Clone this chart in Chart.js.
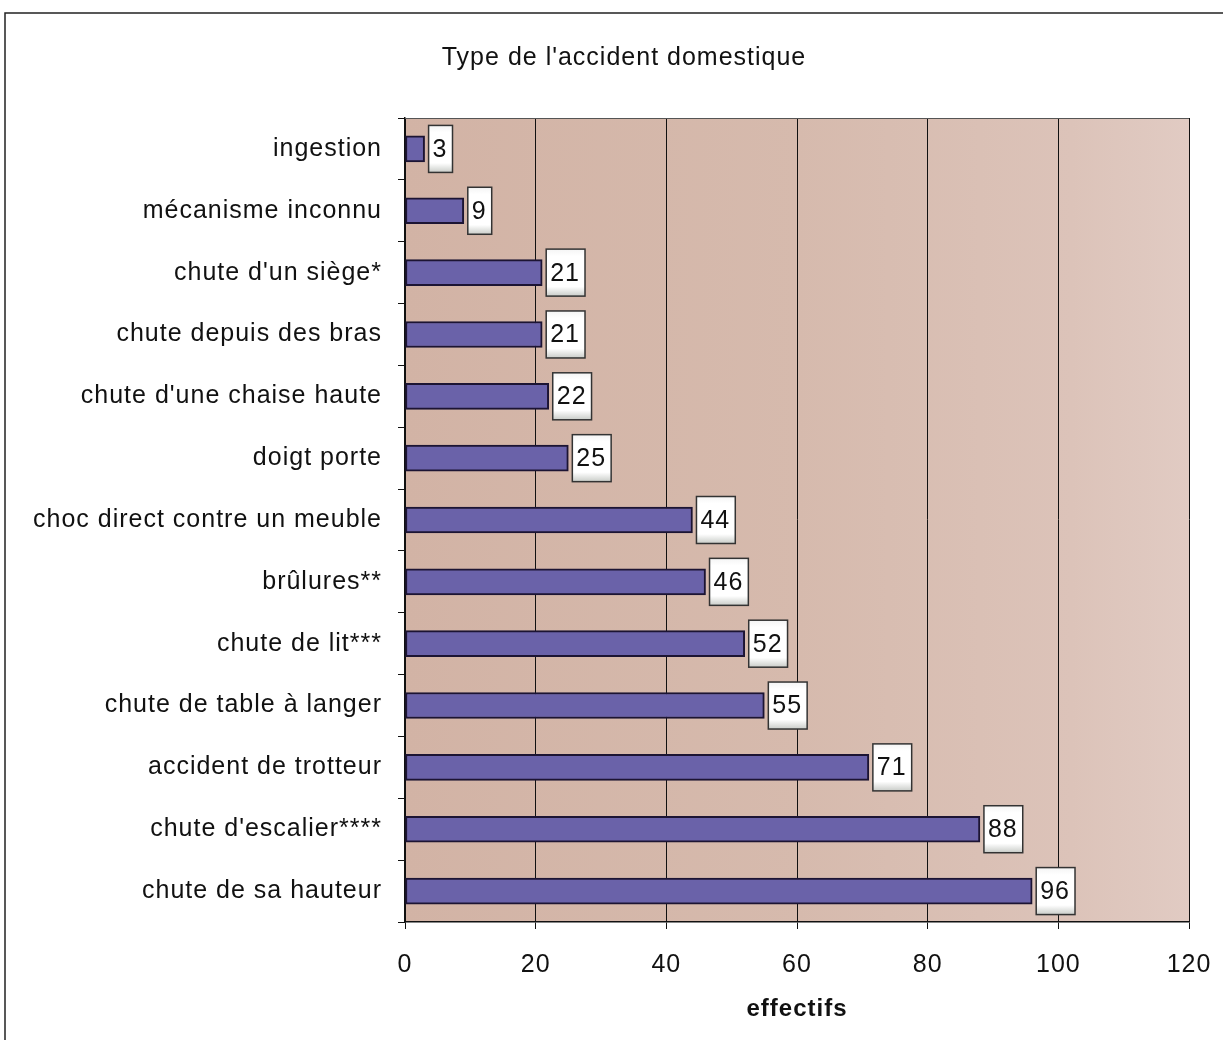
<!DOCTYPE html>
<html>
<head>
<meta charset="utf-8">
<script src="https://cdn.jsdelivr.net/npm/chart.js@4/dist/chart.umd.min.js"></script>
<style>
  html, body { margin: 0; padding: 0; background: #fff; }
  #wrap { width: 1223px; height: 1046px; position: relative; }
</style>
</head>
<body>
<div id="wrap"><canvas id="myChart"></canvas></div>
<script>
var categories = [
  "ingestion", "mécanisme inconnu", "chute d'un siège*", "chute depuis des bras",
  "chute d'une chaise haute", "doigt porte", "choc direct contre un meuble",
  "brûlures**", "chute de lit***", "chute de table à langer",
  "accident de trotteur", "chute d'escalier****", "chute de sa hauteur"
];
var effectifs = [3, 9, 21, 21, 22, 25, 44, 46, 52, 55, 71, 88, 96];
var xTicks = [0, 20, 40, 60, 80, 100, 120];
var chartTitle = "Type de l'accident domestique";

var FONT = "Arial, 'Liberation Sans', sans-serif";

// le texte du scan est un peu plus large qu'Arial
var spacingPlugin = {
  id: 'spacing',
  beforeUpdate: function(chart) { chart.ctx.letterSpacing = '1px'; },
  beforeLayout: function(chart) { chart.ctx.letterSpacing = '1px'; },
  beforeDraw: function(chart) { chart.ctx.letterSpacing = '1px'; }
};

// fond du graphique, cadre de la page et titre
var backgroundPlugin = {
  id: 'plotBg',
  beforeDraw: function(chart) {
    var c = chart.ctx, a = chart.chartArea;
    c.save();
    c.fillStyle = '#fff';
    c.fillRect(0, 0, chart.width, chart.height);
    var g = c.createLinearGradient(a.left, 0, a.right, 0);
    g.addColorStop(0, '#d2b3a5');
    g.addColorStop(0.5, '#d6baad');
    g.addColorStop(0.85, '#dcc3b9');
    g.addColorStop(1, '#e1cbc3');
    c.fillStyle = g;
    c.fillRect(a.left, a.top, a.right - a.left, a.bottom - a.top);
    // cadre
    c.strokeStyle = '#222';
    c.lineWidth = 1.5;
    c.beginPath();
    c.moveTo(5, 1040);
    c.lineTo(5, 13);
    c.lineTo(1223, 13);
    c.stroke();
    // titre
    c.fillStyle = '#111';
    c.font = '25px ' + FONT;
    c.textAlign = 'center';
    c.textBaseline = 'middle';
    c.fillText(chartTitle, 624, 58);
    c.restore();
  },
  afterDatasetsDraw: function(chart) {
    var c = chart.ctx, a = chart.chartArea;
    c.save();
    c.strokeStyle = '#555';
    c.lineWidth = 1;
    c.beginPath();
    c.moveTo(a.left, a.top + 0.5);
    c.lineTo(a.right, a.top + 0.5);
    c.stroke();
    c.restore();
  }
};

// étiquettes de valeur dans une boîte blanche
var valueBoxPlugin = {
  id: 'valueBox',
  afterDatasetsDraw: function(chart) {
    var c = chart.ctx;
    var meta = chart.getDatasetMeta(0);
    c.save();
    c.font = '25px ' + FONT;
    c.textBaseline = 'middle';
    c.textAlign = 'left';
    meta.data.forEach(function(bar, i) {
      var txt = String(effectifs[i]);
      var w = c.measureText(txt).width + 9;
      var h = 47;
      var x = bar.x + 4, y = bar.y - h / 2;
      var g = c.createLinearGradient(0, y, 0, y + h);
      g.addColorStop(0, '#f4f4f4');
      g.addColorStop(0.15, '#ffffff');
      g.addColorStop(0.8, '#ffffff');
      g.addColorStop(1, '#c9ccc8');
      c.fillStyle = g;
      c.fillRect(x, y, w, h);
      c.strokeStyle = '#333';
      c.lineWidth = 1.5;
      c.strokeRect(x, y, w, h);
      c.fillStyle = '#111';
      c.fillText(txt, x + 4, bar.y + 1);
    });
    c.restore();
  }
};

var ctx = document.getElementById("myChart").getContext('2d');
var config = {
  type: 'bar',
  data: {
    labels: categories,
    datasets: [
      {
        label: 'effectifs',
        data: effectifs,
        backgroundColor: '#6a62a9',
        borderColor: '#1c1433',
        borderWidth: 2,
        borderSkipped: false,
        barThickness: 26
      }
    ]
  },
  options: {
    indexAxis: 'y',
    responsive: true,
    maintainAspectRatio: false,
    animation: false,
    layout: { padding: { left: 0, right: 34, top: 118, bottom: 0 } },
    plugins: {
      legend: { display: false },
      tooltip: { enabled: false },
      title: { display: false }
    },
    scales: {
      x: {
        min: 0,
        max: 120,
        afterBuildTicks: function(scale) {
          scale.ticks = xTicks.map(function(v) { return { value: v }; });
        },
        afterFit: function(scale) {
          scale.height = 124;
          scale.paddingLeft = 0;
          scale.paddingRight = 0;
        },
        grid: { color: '#111', lineWidth: 1, tickLength: 7, tickColor: '#111' },
        border: { color: '#111', width: 1.5 },
        ticks: {
          color: '#111',
          padding: 21,
          font: { family: FONT, size: 25 }
        },
        title: {
          display: true,
          text: 'effectifs',
          color: '#111',
          font: { family: FONT, size: 24, weight: 'bold' },
          padding: { top: 0, bottom: 22 }
        }
      },
      y: {
        afterFit: function(scale) { scale.width = 405; },
        grid: { drawOnChartArea: false, tickLength: 7, tickColor: '#111', offset: true },
        border: { color: '#111', width: 1.5 },
        ticks: {
          color: '#111',
          padding: 16,
          font: { family: FONT, size: 25 }
        }
      }
    }
  },
  plugins: [spacingPlugin, backgroundPlugin, valueBoxPlugin]
};
var myChart = new Chart(ctx, config);
</script>
</body>
</html>
